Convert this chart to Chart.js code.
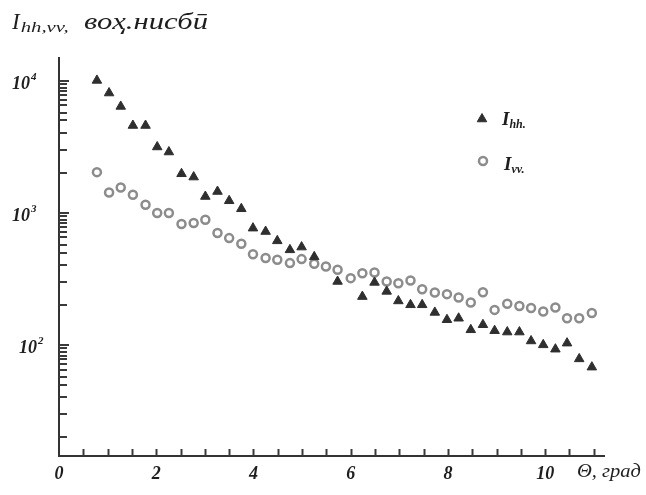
<!DOCTYPE html>
<html>
<head>
<meta charset="utf-8">
<script src="https://cdn.jsdelivr.net/npm/chart.js@4/dist/chart.umd.min.js"></script>
<style>
  html, body { margin: 0; padding: 0; background: #fff; }
  #wrap { width: 646px; height: 495px; position: relative; }
</style>
</head>
<body>
<div id="wrap"><canvas id="c" width="646" height="495"></canvas></div>
<script>
// ---- data ----
const thetaDeg = [0.78, 1.03, 1.27, 1.52, 1.78, 2.02, 2.26, 2.52, 2.77, 3.01,
                  3.26, 3.50, 3.75, 3.99, 4.25, 4.49, 4.75, 4.99, 5.25, 5.49,
                  5.73, 6.00, 6.24, 6.49, 6.74, 6.98, 7.23, 7.47, 7.73, 7.98,
                  8.22, 8.47, 8.72, 8.96, 9.22, 9.47, 9.71, 9.96, 10.21, 10.45,
                  10.70, 10.96];
const Ihh = [10050, 8070, 6385, 4580, 4580, 3150, 2885, 1974, 1864, 1328,
             1449, 1233, 1072, 765, 721, 613, 524, 550, 464, null,
             302, null, 232, 297, 254, 215, 201, 201, 176, 155,
             159, 130, 142, 128, 125, 125, 107, 100, 92.7, 103,
             78.3, 67.8];
const Ivv = [2031, 1426, 1555, 1368, 1150, 995, 995, 822, 836, 886,
             702, 643, 582, 486, 454, 441, 416, 446, 411, 392,
             370, 320, 348, 353, 302, 293, 307, 264, 249, 242,
             228, 209, 250, 184, 205, 197, 190, 179, 192, 159,
             159, 174];
const xTickValues = [0, 0.5, 1, 1.5, 2, 2.5, 3, 3.5, 4, 4.5, 5, 5.5, 6, 6.5,
                     7, 7.5, 8, 8.5, 9, 9.5, 10, 10.5, 11];
const xLabelValues = [0, 2, 4, 6, 8, 10];
const yDecades = [100, 1000, 10000];
const yMinorFactors = [1, 0.94, 0.88, 0.83, 0.78, 0.72, 0.65, 0.57, 0.5, 0.4, 0.3, 0.2];
const yLabelValues = [100, 1000, 10000];
const yLabelExponents = ['2', '3', '4'];
const titleMain = 'I';
const titleSub = 'hh,vv,';
const titleRest = 'воҳ.нисбӣ';
const xAxisTitle = 'Θ, град';
const legendLabels = [{main: 'I', sub: 'hh.'}, {main: 'I', sub: 'vv.'}];

const SERIF = '"Liberation Serif", "DejaVu Serif", serif';
const TRI_COLOR = '#2f2f2f';
const CIRC_COLOR = '#8c8c8c';

const hhPoints = thetaDeg.map((x, i) => ({x: x, y: Ihh[i]}));
const vvPoints = thetaDeg.map((x, i) => ({x: x, y: Ivv[i]}));

function fitText(ctx, text, x, y, width) {
  const w = ctx.measureText(text).width;
  ctx.save();
  ctx.translate(x, y);
  ctx.scale(width / w, 1);
  ctx.fillText(text, 0, 0);
  ctx.restore();
}

const decorPlugin = {
  id: 'decor',
  afterDraw(chart) {
    const ctx = chart.ctx;
    const xs = chart.scales.x, ys = chart.scales.y;
    const area = chart.chartArea;
    ctx.save();
    // inward ticks
    ctx.strokeStyle = '#3a3a3a';
    ctx.lineWidth = 2;
    xs.ticks.forEach(t => {
      if (t.value <= 0) return;
      const px = Math.round(xs.getPixelForValue(t.value)) + 0.5;
      ctx.beginPath(); ctx.moveTo(px, area.bottom); ctx.lineTo(px, area.bottom - 7); ctx.stroke();
    });
    ys.ticks.forEach(t => {
      const py = Math.round(ys.getPixelForValue(t.value));
      const major = yDecades.includes(t.value);
      ctx.beginPath(); ctx.moveTo(area.left, py); ctx.lineTo(area.left + (major ? 10 : 8), py); ctx.stroke();
    });
    // y labels 10^n
    ctx.fillStyle = '#1e1e1e';
    ctx.textBaseline = 'alphabetic';
    ctx.textAlign = 'left';
    yLabelValues.forEach((v, i) => {
      const py = ys.getPixelForValue(v);
      ctx.font = 'italic bold 18px ' + SERIF;
      const x0 = (v === 100) ? 19 : 12;
      ctx.fillText('10', x0, py + 8);
      const w = ctx.measureText('10').width;
      ctx.font = 'italic bold 11px ' + SERIF;
      ctx.fillText(yLabelExponents[i], x0 + w + 1, py - 1);
    });
    // x axis title
    ctx.font = 'italic 18px ' + SERIF;
    fitText(ctx, xAxisTitle, 577, 477, 64);
    // main title
    ctx.font = 'italic 23px ' + SERIF;
    ctx.fillText(titleMain, 12, 29);
    let w = ctx.measureText(titleMain).width;
    ctx.font = 'italic 15px ' + SERIF;
    fitText(ctx, titleSub, 12 + w + 1, 32, 48);
    ctx.font = 'italic 23px ' + SERIF;
    fitText(ctx, titleRest, 84, 29, 124);
    // legend
    const drawP = Chart.helpers.drawPoint;
    ctx.fillStyle = TRI_COLOR; ctx.strokeStyle = TRI_COLOR; ctx.lineWidth = 1;
    drawP(ctx, {pointStyle: 'triangle', radius: 5.5, rotation: 0, borderWidth: 1}, 482, 119);
    ctx.fillStyle = '#fff'; ctx.strokeStyle = CIRC_COLOR; ctx.lineWidth = 2.5;
    drawP(ctx, {pointStyle: 'circle', radius: 4, rotation: 0, borderWidth: 2.5}, 483, 161);
    ctx.fillStyle = '#1e1e1e';
    const legPos = [{x: 502, y: 125}, {x: 504, y: 170}];
    legendLabels.forEach((l, i) => {
      ctx.font = 'italic bold 19px ' + SERIF;
      ctx.fillText(l.main, legPos[i].x, legPos[i].y);
      const mw = ctx.measureText(l.main).width;
      ctx.font = 'italic bold 12px ' + SERIF;
      ctx.fillText(l.sub, legPos[i].x + mw, legPos[i].y + 3);
    });
    ctx.restore();
  }
};

new Chart(document.getElementById('c'), {
  type: 'scatter',
  data: {
    datasets: [
      {
        label: 'Ihh',
        data: hhPoints,
        pointStyle: 'triangle',
        pointRadius: 5.5,
        pointBackgroundColor: TRI_COLOR,
        pointBorderColor: TRI_COLOR,
        pointBorderWidth: 1,
        showLine: false
      },
      {
        label: 'Ivv',
        data: vvPoints,
        pointStyle: 'circle',
        pointRadius: 4,
        pointBackgroundColor: '#ffffff',
        pointBorderColor: CIRC_COLOR,
        pointBorderWidth: 2.5,
        showLine: false
      }
    ]
  },
  options: {
    responsive: false,
    animation: false,
    events: [],
    layout: { padding: { top: 58, right: 42, left: 0, bottom: 0 } },
    plugins: { legend: { display: false }, tooltip: { enabled: false }, title: { display: false } },
    scales: {
      x: {
        type: 'linear',
        min: 0,
        max: 11.21,
        afterBuildTicks: s => { s.ticks = xTickValues.map(v => ({value: v})); },
        grid: { display: false, drawTicks: false },
        border: { display: true, color: '#333', width: 2 },
        ticks: {
          autoSkip: false,
          maxRotation: 0,
          padding: 8,
          color: '#1e1e1e',
          font: { family: SERIF, size: 18, style: 'italic', weight: 'bold' },
          callback: v => xLabelValues.includes(v) ? String(v) : ''
        },
        afterFit: s => { s.height = 39; }
      },
      y: {
        type: 'logarithmic',
        min: 14.4,
        max: 14860,
        afterBuildTicks: s => {
          const t = [];
          yDecades.forEach(d => yMinorFactors.forEach(f => t.push({value: +(d * f).toPrecision(6)})));
          s.ticks = t;
        },
        grid: { display: false, drawTicks: false },
        border: { display: true, color: '#333', width: 2 },
        ticks: { display: false },
        afterFit: s => { s.width = 59; }
      }
    }
  },
  plugins: [decorPlugin]
});
</script>
</body>
</html>
